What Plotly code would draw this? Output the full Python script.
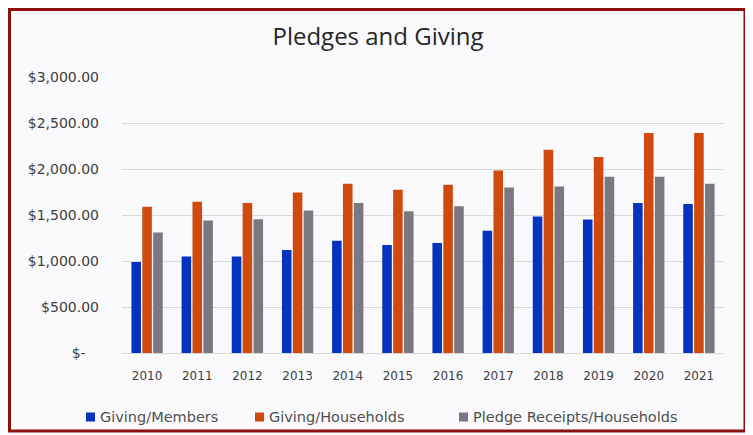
import plotly.graph_objects as go

years = ["2010", "2011", "2012", "2013", "2014", "2015", "2016", "2017", "2018", "2019", "2020", "2021"]
giving_members = [990, 1050, 1050, 1120, 1220, 1175, 1195, 1330, 1485, 1450, 1630, 1620]
giving_households = [1590, 1645, 1630, 1745, 1840, 1775, 1830, 1985, 2210, 2130, 2390, 2390]
pledge_households = [1310, 1440, 1455, 1550, 1630, 1540, 1595, 1800, 1810, 1915, 1915, 1840]

tick_vals = [0, 500, 1000, 1500, 2000, 2500, 3000]
tick_text = ["$-\u00a0\u00a0\u00a0", "$500.00", "$1,000.00", "$1,500.00", "$2,000.00", "$2,500.00", "$3,000.00"]

series_names = ["Giving/Members", "Giving/Households", "Pledge Receipts/Households"]
series_values = [giving_members, giving_households, pledge_households]
series_colors = ["#0433BF", "#CF4A0C", "#7B7882"]

# page is offset by the 8px default body margin, so figure is sized to fit
W, H = 745, 427
ml, mr, mt, mb = 114, 29, 69, 82
pw, ph = W - ml - mr, H - mt - mb


def px_x(px):
    return (px - ml) / pw


def px_y(py):
    return (H - mb - py) / ph


fig = go.Figure()
for name, vals, color in zip(series_names, series_values, series_colors):
    fig.add_trace(go.Bar(x=years, y=vals, name=name,
                         marker=dict(color=color, line=dict(width=0))))

fig.update_layout(
    width=W, height=H,
    margin=dict(l=ml, r=mr, t=mt, b=mb, pad=0),
    paper_bgcolor="#FFFFFF",
    plot_bgcolor="#FAFAFC",
    barmode="group",
    bargap=0.35,
    bargroupgap=0.12,
    showlegend=False,
    font=dict(family="DejaVu Sans, sans-serif", color="#404040", size=12),
    title=dict(text="Pledges and Giving", xref="container", x=370 / W, xanchor="center",
               yref="container", y=1 - 29 / H, yanchor="middle",
               font=dict(size=24, color="#262626", family="Open Sans, sans-serif")),
    xaxis=dict(showgrid=False, tickfont=dict(size=12, color="#404040"),
               ticks="", showline=True, linecolor="#D9D9D9", linewidth=1,
               ticklabelstandoff=12),
    yaxis=dict(range=[0, 3000], tickvals=tick_vals, ticktext=tick_text,
               showgrid=True, gridcolor="#D9D9D9", gridwidth=1,
               zeroline=False, ticks="", ticklabelstandoff=22,
               tickfont=dict(size=14, color="#404040")),
)

# background panel and dark-red frame
fig.add_shape(type="rect", xref="paper", yref="paper", layer="below",
              x0=px_x(1.5), x1=px_x(737), y0=px_y(423), y1=px_y(1.5),
              fillcolor="#FAFAFC", line=dict(color="#8E0E0E", width=3))

# legend (squares + labels) placed like the original's bottom legend
legend_x = [78, 247, 451]
legend_yc = 409
for name, color, lx in zip(series_names, series_colors, legend_x):
    fig.add_shape(type="rect", xref="paper", yref="paper",
                  x0=px_x(lx), x1=px_x(lx + 9), y0=px_y(legend_yc + 4.5), y1=px_y(legend_yc - 4.5),
                  fillcolor=color, line=dict(width=0))
    fig.add_annotation(text=name, xref="paper", yref="paper", x=px_x(lx + 12), y=px_y(legend_yc),
                       xanchor="left", yanchor="middle", showarrow=False,
                       font=dict(size=14.5, color="#505050", family="DejaVu Sans, sans-serif"))

fig.write_html("out.html")
